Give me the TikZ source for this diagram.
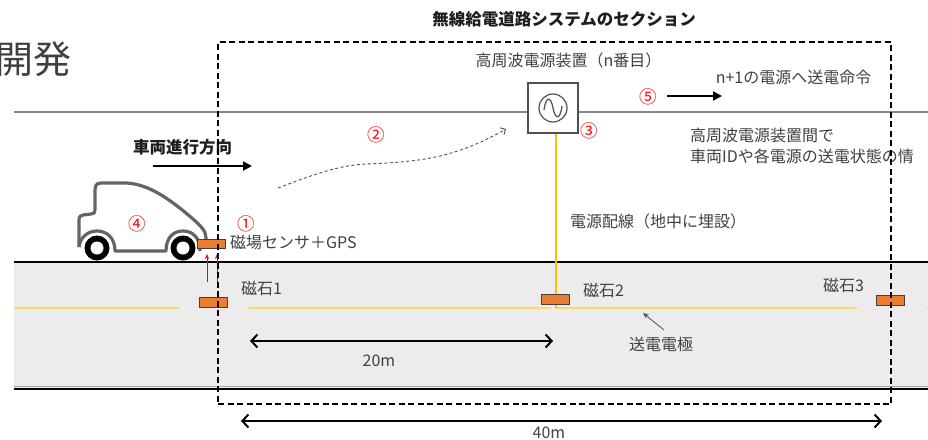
\documentclass[tikz,border=0pt]{standalone}
\usepackage{fontspec}
\setmainfont{Noto Sans CJK JP}
\usetikzlibrary{arrows.meta}
\definecolor{txt}{RGB}{64,64,64}
\definecolor{titletxt}{RGB}{30,30,30}
\definecolor{redmark}{RGB}{255,0,0}
\definecolor{roadgray}{RGB}{236,236,236}
\definecolor{magnet}{RGB}{237,125,49}
\definecolor{laneyellow}{RGB}{255,217,102}
\definecolor{cablecol}{RGB}{255,192,0}
\definecolor{carline}{RGB}{100,100,100}
\definecolor{wirecol}{RGB}{135,135,135}
\definecolor{boxline}{RGB}{80,80,80}
\begin{document}
\begin{tikzpicture}[x=1pt,y=-1pt,
  lbl/.style={font=\fontsize{16}{16}\selectfont, text=txt, inner sep=0pt},
  boldlbl/.style={font=\bfseries\fontsize{16.5}{16.5}\selectfont, text=titletxt, inner sep=0pt},
  num/.style={font=\fontsize{17.5}{17.5}\selectfont, text=redmark, inner sep=0pt},
  magbox/.style={draw=black!75, fill=magnet, line width=0.8pt, minimum width=28pt, minimum height=10pt, inner sep=0pt},
  lane/.style={draw=laneyellow, line width=2pt},
  roadedge/.style={draw=black, line width=2pt},
  bigarrow/.style={line width=2pt, -{Triangle[length=9pt,width=9pt]}},
  dimarrow/.style={line width=2pt, {Straight Barb[length=6pt,width=13pt,line width=2pt]}-{Straight Barb[length=6pt,width=13pt,line width=2pt]}},
  fieldarrow/.style={draw=redmark, line width=0.7pt, -{Stealth[length=5pt,width=4pt]}},
  carstroke/.style={draw=carline, line width=3.2pt, line join=round},
]
\useasboundingbox (0,0) rectangle (928,439);

% communication line between power units
\draw[wirecol, line width=1.5pt] (14,112) -- (935,112);

% road surface
\fill[roadgray] (14,262) rectangle (935,389);
\draw[roadedge] (14,262) -- (935,262);
\draw[gray!70, line width=1pt] (14,386.5) -- (935,386.5);
\draw[roadedge] (14,389) -- (935,389);

% centre lane / transmission electrode
\draw[lane] (14,308) -- (179,308);
\draw[lane] (248,308) -- (551,308);
\draw[lane] (556,308) -- (857,308);
\draw[lane] (927,308) -- (935,308);

% high-frequency power unit
\node[draw=boxline, fill=white, line width=1.5pt, minimum width=50pt, minimum height=50pt, inner sep=0pt] (psbox) at (553,108) {};
\node[draw=boxline, circle, line width=1.2pt, minimum size=28pt, inner sep=0pt] (osc) at (553,108) {};
\draw[boxline, line width=1.2pt] (544,110) .. controls (546,95) and (551,97) .. (553,108) .. controls (555,119) and (560,121) .. (562,106);

% buried power cable
\coordinate (cableend) at (555.5,308);
\draw[cablecol, line width=2pt] (psbox.south -| cableend) -- (cableend);

% magnets
\node[magbox] (mag1) at (213,302.5) {};
\node[magbox] (mag2) at (555.5,299.5) {};
\node[magbox] (mag3) at (890,300.5) {};

% vehicle
\draw[carstroke] (206,244) -- (206,238) .. controls (206,231) and (201,226) .. (193,219)
  .. controls (172,201) and (150,184) .. (126,183) -- (101,183)
  .. controls (96,183) and (95,186) .. (95,191) -- (95,210)
  .. controls (95,213) and (94,214) .. (91,214) -- (83,215)
  .. controls (80,215) and (79,217) .. (79,221) -- (79,247);
\draw[carstroke] (200,251) .. controls (200,238) and (193,231) .. (183,231)
  .. controls (173,231) and (166,238) .. (166,251) -- (115,251)
  .. controls (115,238) and (107,231) .. (97,231)
  .. controls (87,231) and (80,238) .. (79,247);
\fill[black] (97,248) circle (12.5pt);
\fill[white] (97,248) circle (6.5pt);
\fill[black] (183,248) circle (12.5pt);
\fill[white] (183,248) circle (6.5pt);
\node[magbox, minimum height=9pt] (sensor) at (211,243.5) {};

% field lines from magnet to sensor
\coordinate (fa1) at (207,282);
\coordinate (fb1) at (207,254);
\coordinate (fa2) at (217,282);
\coordinate (fb2) at (217,254);
\draw[fieldarrow] (fa1) -- (fb1);
\draw[fieldarrow] (fa2) -- (fb2);

% direction of travel
\coordinate (dirL) at (153,166);
\coordinate (dirR) at (252,166);
\draw[bigarrow] (dirL) -- (dirR);
\node[boldlbl] (dirlabel) at (182.5,147) {車両進行方向};

% message to next unit
\coordinate (cmdL) at (667,96);
\coordinate (cmdR) at (722,96);
\draw[bigarrow] (cmdL) -- (cmdR);

% vehicle-to-unit notification
\coordinate (notifyStart) at (278,188);
\coordinate (notifyEnd) at (506,129);
\draw[draw=boxline, line width=0.9pt, dash pattern=on 3pt off 2.5pt, -{Straight Barb[length=4pt,width=8pt]}]
  (notifyStart) .. controls (310,176) and (335,166) .. (365,164)
  .. controls (420,162) and (455,158) .. (notifyEnd);

% dimension arrows
\coordinate (d20L) at (250,341);
\coordinate (d20R) at (553,341);
\draw[dimarrow] (d20L) -- (d20R);
\coordinate (d40L) at (241,421);
\coordinate (d40R) at (882,421);
\draw[dimarrow] (d40L) -- (d40R);

% electrode pointer
\node[lbl] (electrode) at (661,344) {送電電極};
\coordinate (elecTail) at (664,330);
\coordinate (elecTip) at (643,313);
\draw[boxline, line width=0.8pt, -{Stealth[length=6pt,width=5pt]}] (elecTail) -- (elecTip);

% texts
\node[font=\fontsize{38}{38}\selectfont, text=txt, inner sep=0pt, anchor=east] (headline) at (72,59) {開発};
\node[boldlbl] (sectiontitle) at (564,19) {無線給電道路システムのセクション};
\node[lbl] (psname) at (568.5,60) {高周波電源装置（n番目）};
\node[lbl] (cmdtext) at (793.5,77) {n+1の電源へ送電命令};
\node[lbl, anchor=west] (info1) at (690,135) {高周波電源装置間で};
\node[lbl, anchor=west] (info2) at (690,156) {車両IDや各電源の送電状態の情};
\node[lbl, anchor=west] (sensorlabel) at (230,242) {磁場センサ＋GPS};
\node[lbl, anchor=west] (cablelabel) at (570,221) {電源配線（地中に埋設）};
\node[lbl, anchor=west] (mag1label) at (241,288) {磁石1};
\node[lbl, anchor=west] (mag2label) at (583,290) {磁石2};
\node[lbl, anchor=west] (mag3label) at (823,285) {磁石3};
\node[lbl] (len20) at (379,361) {20m};
\node[lbl] (len40) at (549,433) {40m};

% step markers
\node[num] (step1) at (246,224) {①};
\node[num] (step2) at (376,135) {②};
\node[num] (step3) at (589,131) {③};
\node[num] (step4) at (137,224) {④};
\node[num] (step5) at (648,97) {⑤};

% section boundary
\node[draw=black, line width=1.5pt, dash pattern=on 6pt off 3.5pt, minimum width=673pt, minimum height=362pt, inner sep=0pt] (section) at (554.5,223) {};
\end{tikzpicture}
\end{document}
